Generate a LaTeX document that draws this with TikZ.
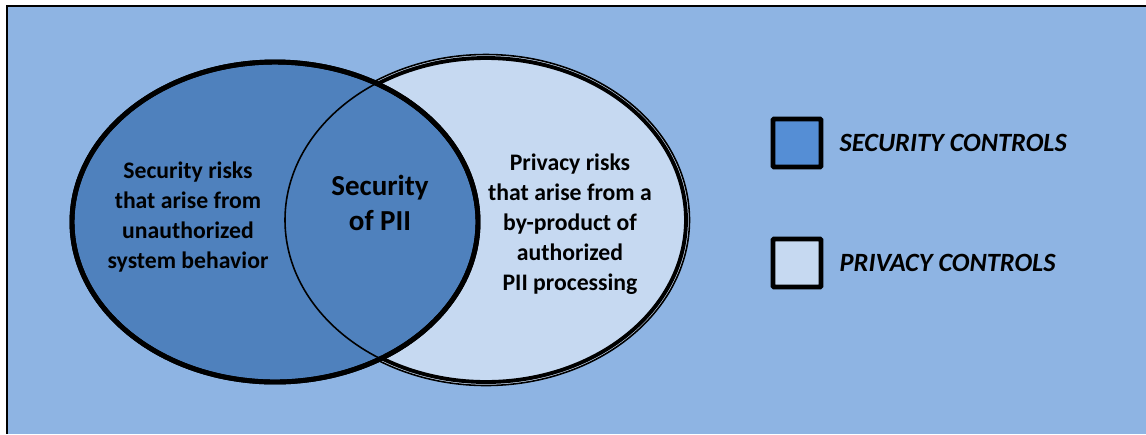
\documentclass[tikz,border=0pt]{standalone}
\usepackage{fontspec}
\setmainfont{Carlito}
\usetikzlibrary{positioning}

\definecolor{bgblue}{HTML}{8EB4E3}
\definecolor{secfill}{HTML}{4F81BD}
\definecolor{privfill}{HTML}{C6D9F1}
\definecolor{legsec}{HTML}{558ED5}

\tikzset{
	riskset/.style={line width=2.8pt},
	legbox/.style={draw, line width=2.8pt, rounded corners=0.6pt, minimum size=0.96cm, inner sep=0pt},
	risktext/.style={align=center, font=\fontsize{13.5}{17}\selectfont\bfseries},
	legtext/.style={anchor=west, font=\fontsize{15}{18}\selectfont\bfseries\itshape}
}

\begin{document}
\begin{tikzpicture}[x=0.02cm, y=-0.02cm]
				            \useasboundingbox (0,0) rectangle (1146,434);
				            \fill[bgblue] (7,6) rectangle (1146,434);
				            \draw[line width=1.2pt] (1146,6) -- (7,6) -- (7,434);

				            % the two sets
				            \draw[privfill, line width=2.8pt] (486,220) ellipse [x radius=201, y radius=163];
				            \filldraw[fill=privfill, draw=black, line width=2.2pt] (486,220) ellipse [x radius=200, y radius=162];
				            \draw[line width=0.9pt] (486,220) ellipse [x radius=203.5, y radius=165.5];
				            \filldraw[fill=secfill, draw=black, riskset] (275,222) ellipse [x radius=203, y radius=160];
				            \begin{scope}
				            	\clip (275,222) ellipse [x radius=203, y radius=160];
				            	\draw[line width=0.9pt] (486,220) ellipse [x radius=201, y radius=163];
				            \end{scope}
				            \draw[riskset] (275,222) ellipse [x radius=203, y radius=160];

				            \node[risktext] (secrisk) at (188,217) {Security risks\\that arise from\\unauthorized\\system behavior};
				            \node[risktext, font=\fontsize{16.5}{19.5}\selectfont\bfseries] (pii) at (380,203) {Security\\of PII};
				            \node[risktext] (privrisk) at (570,224) {Privacy risks\\that arise from a\\by-product of\\authorized\\PII processing};

				            % legend
				            \foreach \n/\c/\y/\t in {sec/legsec/143/SECURITY CONTROLS, priv/privfill/263/PRIVACY CONTROLS} {
						            \node[legbox, fill=\c] (\n box) at (797,\y) {};
						            \node[legtext, right=0.2cm of \n box] (\n lab) {\t};
					            }

			            \end{tikzpicture}
\end{document}
